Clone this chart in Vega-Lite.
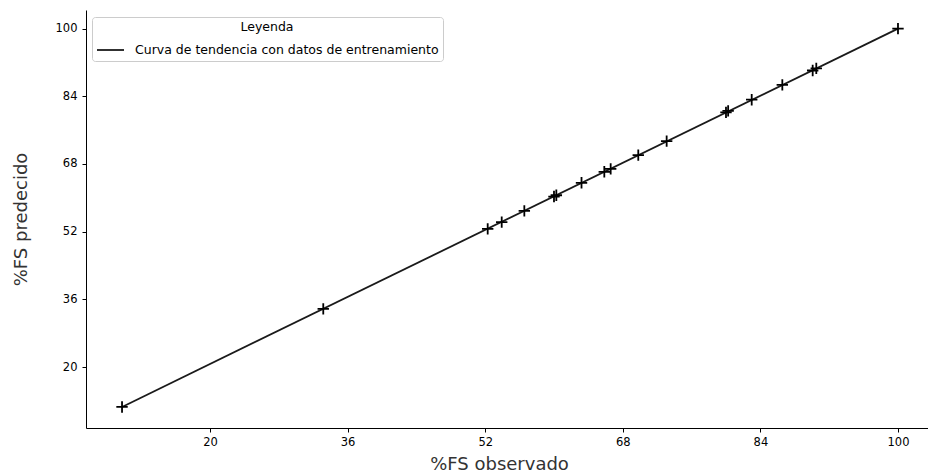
{
  "$schema": "https://vega.github.io/schema/vega-lite/v6.json",
  "width": 842,
  "height": 418,
  "autosize": {"type": "none"},
  "padding": {"left": 86, "top": 10, "right": 0, "bottom": 44},
  "background": "white",
  "view": {"stroke": null},
  "config": {
    "font": "DejaVu Sans",
    "axis": {
      "domainColor": "#000000",
      "tickColor": "#000000",
      "labelColor": "#000000",
      "titleColor": "#333333",
      "labelFont": "DejaVu Sans",
      "titleFont": "DejaVu Sans",
      "labelFontSize": 11.5,
      "titleFontSize": 18,
      "titleFontWeight": "normal",
      "tickSize": 4,
      "grid": false,
      "domainWidth": 1
    }
  },
  "datasets": {
    "puntos": [
      {"observado": 9.77, "predecido": 10.56},
      {"observado": 33.17, "predecido": 33.75},
      {"observado": 52.29, "predecido": 52.65},
      {"observado": 53.92, "predecido": 54.25},
      {"observado": 56.55, "predecido": 56.9},
      {"observado": 60.0, "predecido": 60.3},
      {"observado": 60.27, "predecido": 60.6},
      {"observado": 63.2, "predecido": 63.55},
      {"observado": 65.85, "predecido": 66.15},
      {"observado": 66.59, "predecido": 66.85},
      {"observado": 69.8, "predecido": 70.1},
      {"observado": 73.1, "predecido": 73.4},
      {"observado": 80.0, "predecido": 80.2},
      {"observado": 80.25, "predecido": 80.55},
      {"observado": 82.99, "predecido": 83.2},
      {"observado": 86.55, "predecido": 86.7},
      {"observado": 90.08, "predecido": 90.1},
      {"observado": 90.5, "predecido": 90.6},
      {"observado": 100.0, "predecido": 100.0}
    ],
    "tendencia": [
      {"observado": 9.77, "predecido": 10.56, "serie": "Curva de tendencia con datos de entrenamiento"},
      {"observado": 100.0, "predecido": 100.0, "serie": "Curva de tendencia con datos de entrenamiento"}
    ]
  },
  "layer": [
    {
      "data": {"name": "tendencia"},
      "mark": {"type": "line", "strokeWidth": 1.8, "clip": true},
      "encoding": {
        "x": {
          "field": "observado",
          "type": "quantitative",
          "scale": {"domain": [5.58, 103.49], "nice": false, "zero": false},
          "axis": {
            "values": [20, 36, 52, 68, 84, 100],
            "title": "%FS observado",
            "labelPadding": 4,
            "titleX": 413,
            "titleY": 41,
            "titleBaseline": "alphabetic",
            "titleAnchor": null,
            "titleAlign": "center"
          }
        },
        "y": {
          "field": "predecido",
          "type": "quantitative",
          "scale": {"domain": [5.58, 104.4], "nice": false, "zero": false},
          "axis": {
            "values": [20, 36, 52, 68, 84, 100],
            "title": "%FS predecido",
            "labelPadding": 5,
            "titleX": -60,
            "titleY": 209,
            "titleAngle": -90,
            "titleBaseline": "alphabetic",
            "titleAlign": "center",
            "titleAnchor": null
          }
        },
        "color": {
          "field": "serie",
          "type": "nominal",
          "scale": {"range": ["#1a1a1a"]},
          "legend": {
            "title": "Leyenda",
            "orient": "none",
            "legendX": 6,
            "legendY": 7,
            "titleAnchor": "middle",
            "titleFontSize": 12.5,
            "titleFontWeight": "normal",
            "titleColor": "#000000",
            "titleFont": "DejaVu Sans",
            "titlePadding": 2,
            "labelFontSize": 12.5,
            "labelFont": "DejaVu Sans",
            "labelColor": "#000000",
            "labelLimit": 0,
            "labelOffset": 10,
            "symbolType": "stroke",
            "symbolSize": 729,
            "symbolStrokeWidth": 1.8,
            "padding": 4,
            "strokeColor": "#cccccc",
            "fillColor": "white",
            "cornerRadius": 3
          }
        }
      }
    },
    {
      "data": {"name": "puntos"},
      "mark": {
        "type": "point",
        "shape": "M-1,0L1,0M0,-1L0,1",
        "filled": false,
        "size": 130,
        "strokeWidth": 1.8,
        "color": "#000000",
        "opacity": 1
      },
      "encoding": {
        "x": {"field": "observado", "type": "quantitative"},
        "y": {"field": "predecido", "type": "quantitative"}
      }
    }
  ]
}
